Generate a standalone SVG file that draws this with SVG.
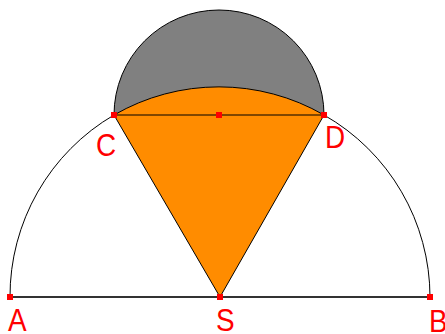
<svg xmlns="http://www.w3.org/2000/svg" width="445" height="334" viewBox="0 0 445 334">
<style>
.l{fill:none;stroke:#000;stroke-width:1}
.p{fill:#ff0000}
.t{fill:#ff0000;font-family:"Liberation Sans",Arial,sans-serif;font-size:31px}
</style>
<rect width="445" height="334" fill="#fff"/>
<g id="connectors">
<path class="l" d="M10,297 A210,210 0 0 1 114,115"/>
<path class="l" d="M324,115 A210,210 0 0 1 430,297"/>
<path d="M10,297 H430" stroke="#333" stroke-width="2" fill="none"/>
</g>
<g id="halfdisk">
<path d="M114,115 A105,105 0 0 1 324,115 Z" fill="#808080" stroke="#000" stroke-width="1"/>
</g>
<g id="sector">
<path d="M220,297 L114,115 A210,210 0 0 1 324,115 Z" fill="#ff8c00" stroke="#000" stroke-width="1"/>
<path class="l" d="M114,115 H324" stroke-width="1.5"/>
</g>
<g id="points">
<rect class="p" x="7" y="294" width="6" height="6"/>
<rect class="p" x="217" y="294" width="6" height="6"/>
<rect class="p" x="427" y="294" width="6" height="6"/>
<rect class="p" x="111" y="112" width="6" height="6"/>
<rect class="p" x="321" y="112" width="6" height="6"/>
<rect class="p" x="216" y="112" width="6" height="6"/>
</g>
<g id="labels">
<text class="t" x="8" y="331" transform="translate(8 0) scale(0.9 1) translate(-8 0)">A</text>
<text class="t" x="216" y="331" transform="translate(216 0) scale(0.9 1) translate(-216 0)">S</text>
<text class="t" x="429" y="332" transform="translate(429 0) scale(0.9 1) translate(-429 0)">B</text>
<text class="t" x="96" y="156" transform="translate(96 0) scale(0.9 1) translate(-96 0)">C</text>
<text class="t" x="325" y="148" transform="translate(325 0) scale(0.9 1) translate(-325 0)">D</text>
</g>
</svg>
